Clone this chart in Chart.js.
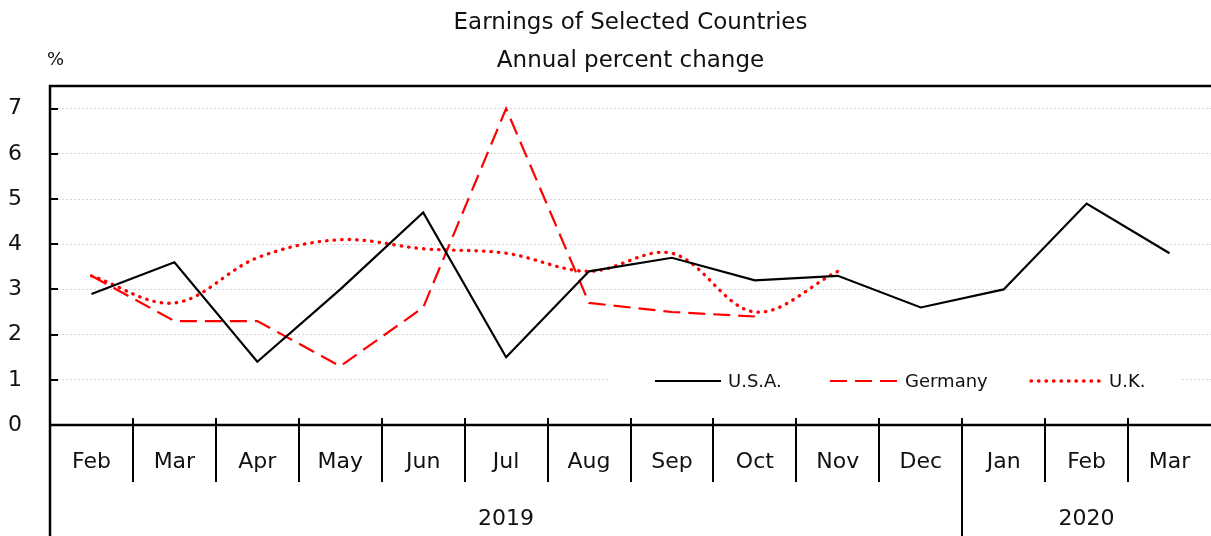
<!DOCTYPE html>
<html>
<head>
<meta charset="utf-8">
<script src="https://cdn.jsdelivr.net/npm/chart.js@4/dist/chart.umd.min.js"></script>
<style>
  html, body { margin: 0; padding: 0; background: #fff; overflow: hidden; }
  #wrap { width: 1211px; height: 536px; position: relative; }
</style>
</head>
<body>
<div id="wrap"><canvas id="myChart" width="1211" height="536"></canvas></div>
<script>
// data
const months = ['Feb','Mar','Apr','May','Jun','Jul','Aug','Sep','Oct','Nov','Dec','Jan','Feb','Mar'];
const years = [ { label: '2019', from: 0, to: 10 }, { label: '2020', from: 11, to: 13 } ];
const usa = [2.9, 3.6, 1.4, 3.0, 4.7, 1.5, 3.4, 3.7, 3.2, 3.3, 2.6, 3.0, 4.9, 3.8];
const germany = [3.3, 2.3, 2.3, 1.3, 2.6, 7.0, 2.7, 2.5, 2.4, null, null, null, null, null];
const uk = [3.3, 2.7, 3.7, 4.1, 3.9, 3.8, 3.4, 3.8, 2.5, 3.4, null, null, null, null];
const yTicks = [0, 1, 2, 3, 4, 5, 6, 7];

const FONT = "'DejaVu Sans', sans-serif";

// draws frame, separators, titles, year row and the in-plot legend
const decorPlugin = {
    id: 'decor',
    afterDatasetsDraw(chart) {
        const ctx = chart.ctx;
        const area = chart.chartArea;
        const x = chart.scales.x;
        const y = chart.scales.y;
        const H = chart.height;
        ctx.save();

        // legend box (covers gridline)
        ctx.fillStyle = '#fff';
        ctx.fillRect(609, 368, 571, 26);
        const legY = 381;
        const items = [
            { x0: 655, x1: 721, tx: 728, text: 'U.S.A.', color: '#000', dash: [], cap: 'butt', w: 2.2 },
            { x0: 830, x1: 898, tx: 905, text: 'Germany', color: '#ff0000', dash: [17, 8], cap: 'butt', w: 2.2 },
            { x0: 1031, x1: 1102, tx: 1109, text: 'U.K.', color: '#ff0000', dash: [0.5, 7], cap: 'round', w: 3.3 }
        ];
        ctx.font = '18px ' + FONT;
        ctx.textBaseline = 'middle';
        ctx.textAlign = 'left';
        items.forEach(function(it) {
            ctx.beginPath();
            ctx.setLineDash(it.dash);
            ctx.lineCap = it.cap;
            ctx.lineWidth = it.w;
            ctx.strokeStyle = it.color;
            ctx.moveTo(it.x0, legY);
            ctx.lineTo(it.x1, legY);
            ctx.stroke();
            ctx.fillStyle = '#111';
            ctx.fillText(it.text, it.tx, legY + 1);
        });
        ctx.setLineDash([]);
        ctx.lineCap = 'butt';

        // axes frame
        ctx.strokeStyle = '#000';
        ctx.lineWidth = 2.5;
        ctx.beginPath();
        ctx.moveTo(area.left, H);
        ctx.lineTo(area.left, area.top);
        ctx.lineTo(chart.width, area.top);
        ctx.moveTo(area.left, area.bottom);
        ctx.lineTo(chart.width, area.bottom);
        ctx.stroke();

        // y ticks pointing inward
        ctx.lineWidth = 2;
        yTicks.forEach(function(v) {
            const py = Math.round(y.getPixelForValue(v));
            ctx.beginPath();
            ctx.moveTo(area.left, py);
            ctx.lineTo(area.left + 8, py);
            ctx.stroke();
        });

        // category separators
        const step = (x.getPixelForValue(1) - x.getPixelForValue(0));
        for (let i = 1; i < months.length; i++) {
            const px = Math.round(x.getPixelForValue(i) - step / 2);
            const isYear = years.some(function(yr) { return yr.from === i; });
            ctx.beginPath();
            ctx.moveTo(px, area.bottom - 7);
            ctx.lineTo(px, isYear ? H : 482);
            ctx.stroke();
        }

        // year labels
        ctx.fillStyle = '#111';
        ctx.font = '22px ' + FONT;
        ctx.textAlign = 'center';
        ctx.textBaseline = 'middle';
        years.forEach(function(yr) {
            const a = x.getPixelForValue(yr.from) - step / 2;
            const b = x.getPixelForValue(yr.to) + step / 2;
            ctx.fillText(yr.label, (a + b) / 2, 519);
        });

        // titles
        const cx = (area.left + area.right) / 2;
        ctx.font = '23px ' + FONT;
        ctx.fillText('Earnings of Selected Countries', cx, 23);
        ctx.fillText('Annual percent change', cx, 61);
        ctx.textAlign = 'left';
        ctx.font = '18px ' + FONT;
        ctx.fillText('%', 47, 60);
        ctx.restore();
    }
};

const data = {
    labels: months,
    datasets: [
        {
            label: 'U.S.A.',
            data: usa,
            borderColor: '#000',
            borderWidth: 2.2,
            pointRadius: 0,
            tension: 0
        },
        {
            label: 'Germany',
            data: germany,
            borderColor: '#ff0000',
            borderWidth: 2.2,
            borderDash: [17, 8],
            pointRadius: 0,
            tension: 0
        },
        {
            label: 'U.K.',
            data: uk,
            borderColor: '#ff0000',
            borderWidth: 3.3,
            borderDash: [0.5, 7],
            borderCapStyle: 'round',
            pointRadius: 0,
            tension: 0.35
        }
    ]
};

const config = {
    type: 'line',
    data: data,
    plugins: [decorPlugin],
    options: {
        responsive: false,
        animation: false,
        layout: { padding: { top: 86, left: 0, right: 0, bottom: 0 } },
        plugins: {
            legend: { display: false },
            title: { display: false },
            tooltip: { enabled: false }
        },
        scales: {
            x: {
                offset: true,
                grid: { display: false, drawTicks: false },
                border: { display: false },
                ticks: {
                    color: '#111',
                    font: { family: FONT, size: 22 },
                    padding: 24,
                    maxRotation: 0,
                    autoSkip: false
                },
                afterFit: function(scale) {
                    scale.height = 111;
                    scale.paddingLeft = 0;
                    scale.paddingRight = 0;
                }
            },
            y: {
                min: 0,
                max: 7.5,
                afterBuildTicks: function(scale) {
                    scale.ticks = yTicks.map(function(v) { return { value: v }; });
                },
                grid: {
                    color: '#d4d4d4',
                    lineWidth: 1,
                    drawTicks: false
                },
                border: { display: false, dash: [2, 2] },
                ticks: {
                    color: '#111',
                    font: { family: FONT, size: 22 },
                    padding: 28
                },
                afterFit: function(scale) {
                    scale.width = 50;
                    scale.paddingTop = 0;
                    scale.paddingBottom = 0;
                }
            }
        }
    }
};

const myChart = new Chart(document.getElementById('myChart'), config);
</script>
</body>
</html>
